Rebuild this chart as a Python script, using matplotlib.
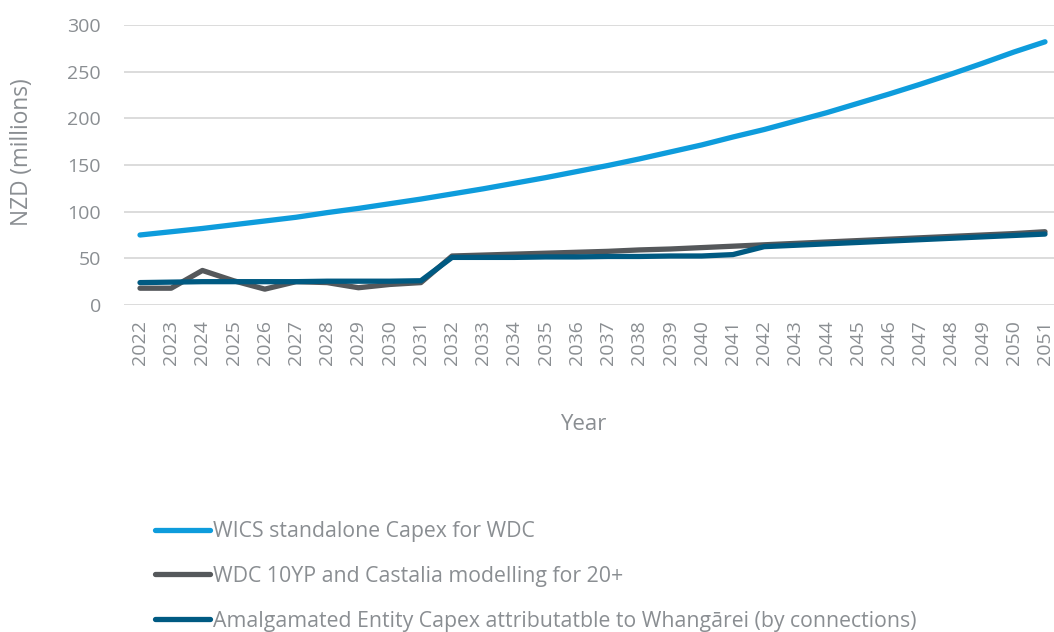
import matplotlib
matplotlib.use("Agg")
import matplotlib.pyplot as plt

years = list(range(2022, 2052))
year_labels = [str(y) for y in years]

wics_standalone = [75, 78.5, 82, 86, 90, 94, 99, 103.5, 108.5, 113.5,
                   119, 124.5, 130.5, 136.5, 143, 149.5, 156.5, 164, 171.5, 180,
                   188, 197, 206, 216, 226, 236.5, 247.5, 259, 271, 282]
wdc_10yp = [18, 18, 37, 26, 17, 25, 24, 18.5, 22, 24,
            52.5, 53.5, 54.5, 55.5, 56.5, 57.5, 59, 60, 61.5, 63,
            64.5, 66, 67.5, 69, 70.5, 72, 73.5, 75, 76.5, 78.5]
amalgamated = [24, 24.5, 25, 25, 25, 25, 25.5, 25.5, 25.5, 26,
               51, 51, 51, 51.5, 51.5, 52, 52, 52.5, 52.5, 54,
               62.5, 64, 65.5, 67, 68.5, 70, 71.5, 73, 74.5, 76]

series_labels = ["WICS standalone Capex for WDC",
                 "WDC 10YP and Castalia modelling for 20+",
                 "Amalgamated Entity Capex attributatble to Whangārei (by connections)"]
colors = ["#0E9CDC", "#55585B", "#005A82"]
y_ticks = [0, 50, 100, 150, 200, 250, 300]

plt.rcParams['font.family'] = ['Open Sans', 'DejaVu Sans']
text_color = "#8A8E92"

W, H = 1054, 632
fig = plt.figure(figsize=(W / 100, H / 100), dpi=100)
ax = fig.add_axes([124.4 / W, 1 - 305 / H, (1060.6 - 124.4) / W, 280 / H])

x = list(range(len(years)))
lines = []
for vals, c, lab in zip([wics_standalone, wdc_10yp, amalgamated], colors, series_labels):
    ln, = ax.plot(x, vals, color=c, lw=3.8, solid_capstyle='round',
                  solid_joinstyle='round', label=lab)
    lines.append(ln)

ax.set_xlim(-0.5, len(years) - 0.5)
ax.set_ylim(0, 300)
ax.set_yticks(y_ticks)
ax.set_xticks(x)
ax.set_xticklabels(year_labels, rotation=90)
ax.grid(axis='y', color='#D9D9D9', lw=1.3)
ax.set_axisbelow(True)
for s in ax.spines.values():
    s.set_visible(False)
ax.tick_params(axis='both', length=0, colors=text_color, labelsize=14)
ax.tick_params(axis='y', pad=17)
ax.tick_params(axis='x', pad=11)

fig.text(22 / W, 1 - 152 / H, "NZD (millions)", rotation=90, ha='center', va='center',
         color=text_color, fontsize=16.3)
fig.text(583 / W, 1 - 425 / H, "Year", ha='center', va='center',
         color=text_color, fontsize=16)

leg = fig.legend(handles=lines, loc='upper left', bbox_to_anchor=(155 / W, 1 - 521 / H),
                 frameon=False, handlelength=2.6, handletextpad=0.15,
                 borderpad=0, borderaxespad=0,
                 labelspacing=1.12, fontsize=15.3, labelcolor=text_color)

fig.savefig("out.png", dpi=100)
